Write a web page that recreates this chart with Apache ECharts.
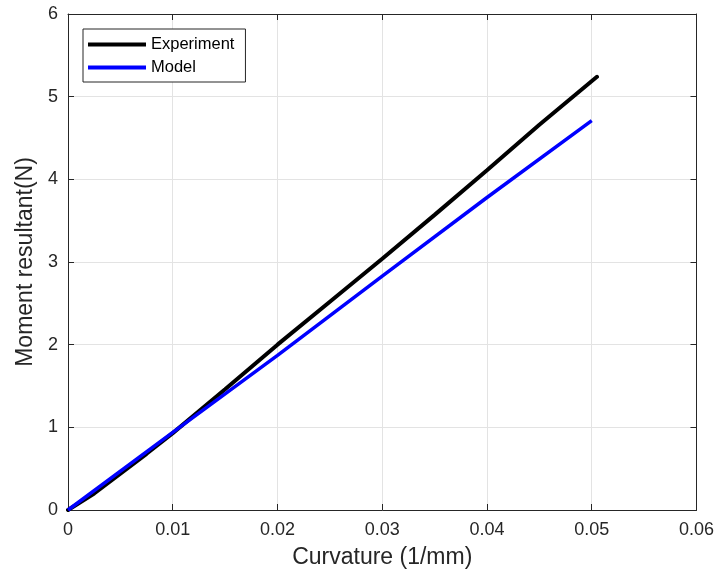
<!DOCTYPE html>
<html>
<head>
<meta charset="utf-8">
<script src="https://cdn.jsdelivr.net/npm/echarts@6/dist/echarts.min.js"></script>
<style>
html,body{margin:0;padding:0;background:#fff;}
#chart{width:717px;height:579px;}
</style>
</head>
<body>
<div id="chart"></div>
<script>
var experimentX = [0, 0.0025, 0.005, 0.0075, 0.01, 0.015, 0.02, 0.025, 0.03, 0.035, 0.04, 0.045, 0.0505];
var experimentY = [0, 0.20, 0.44, 0.68, 0.93, 1.46, 2.00, 2.52, 3.04, 3.57, 4.11, 4.66, 5.24];
var modelX = [0, 0.01, 0.02, 0.03, 0.04, 0.05];
var modelY = [0, 0.94, 1.87, 2.83, 3.78, 4.71];
var seriesNames = ['Experiment', 'Model'];
var xTitle = 'Curvature (1/mm)';
var yTitle = 'Moment resultant(N)';

function pairs(xs, ys) { return xs.map(function (x, i) { return [x, ys[i]]; }); }

var axisColor = '#262626';
var gridColor = '#e3e3e3';
var font = 'Liberation Sans, Arial, sans-serif';

var chart = echarts.init(document.getElementById('chart'), null, {renderer: 'canvas'});
chart.setOption({
  animation: false,
  backgroundColor: '#ffffff',
  grid: {left: 68, right: 20, top: 14, bottom: 69, containLabel: false},
  legend: {
    data: seriesNames,
    orient: 'vertical',
    left: 83, top: 29,
    itemWidth: 58, itemHeight: 4, itemGap: 6,
    icon: 'rect',
    padding: [7, 11, 6, 5],
    backgroundColor: '#ffffff',
    borderColor: axisColor, borderWidth: 1,
    textStyle: {fontFamily: font, fontSize: 16.5, color: '#000'}
  },
  xAxis: [{
    type: 'value', min: 0, max: 0.06, interval: 0.01,
    name: xTitle, nameLocation: 'middle', nameGap: 36,
    nameTextStyle: {fontFamily: font, fontSize: 23, color: axisColor},
    axisLine: {show: true, onZero: false, lineStyle: {color: axisColor, width: 1}},
    axisTick: {show: true, inside: true, length: 6, lineStyle: {color: axisColor}},
    axisLabel: {fontFamily: font, fontSize: 18, color: axisColor, margin: 11,
      formatter: function (v) { return v === 0 ? '0' : v.toFixed(2); }},
    splitLine: {show: true, lineStyle: {color: gridColor, width: 1}}
  }, {
    type: 'value', position: 'top', min: 0, max: 0.06, interval: 0.01,
    axisLine: {show: true, onZero: false, lineStyle: {color: axisColor, width: 1}},
    axisTick: {show: true, inside: true, length: 6, lineStyle: {color: axisColor}},
    axisLabel: {show: false}, splitLine: {show: false}
  }],
  yAxis: [{
    type: 'value', min: 0, max: 6, interval: 1,
    name: yTitle, nameLocation: 'middle', nameGap: 29, nameRotate: 90,
    nameTextStyle: {fontFamily: font, fontSize: 23, color: axisColor},
    axisLine: {show: true, onZero: false, lineStyle: {color: axisColor, width: 1}},
    axisTick: {show: true, inside: true, length: 6, lineStyle: {color: axisColor}},
    axisLabel: {fontFamily: font, fontSize: 18, color: axisColor, margin: 10},
    splitLine: {show: true, lineStyle: {color: gridColor, width: 1}}
  }, {
    type: 'value', position: 'right', min: 0, max: 6, interval: 1,
    axisLine: {show: true, onZero: false, lineStyle: {color: axisColor, width: 1}},
    axisTick: {show: true, inside: true, length: 6, lineStyle: {color: axisColor}},
    axisLabel: {show: false}, splitLine: {show: false}
  }],
  series: [{
    name: seriesNames[0], type: 'line', xAxisIndex: 0, yAxisIndex: 0,
    data: pairs(experimentX, experimentY), showSymbol: false, smooth: false,
    itemStyle: {color: '#000000'},
    lineStyle: {color: '#000000', width: 4, cap: 'round'}
  }, {
    name: seriesNames[1], type: 'line', xAxisIndex: 0, yAxisIndex: 0,
    data: pairs(modelX, modelY), showSymbol: false, smooth: false,
    itemStyle: {color: '#0000ff'},
    lineStyle: {color: '#0000ff', width: 3.5}
  }]
});
</script>
</body>
</html>
